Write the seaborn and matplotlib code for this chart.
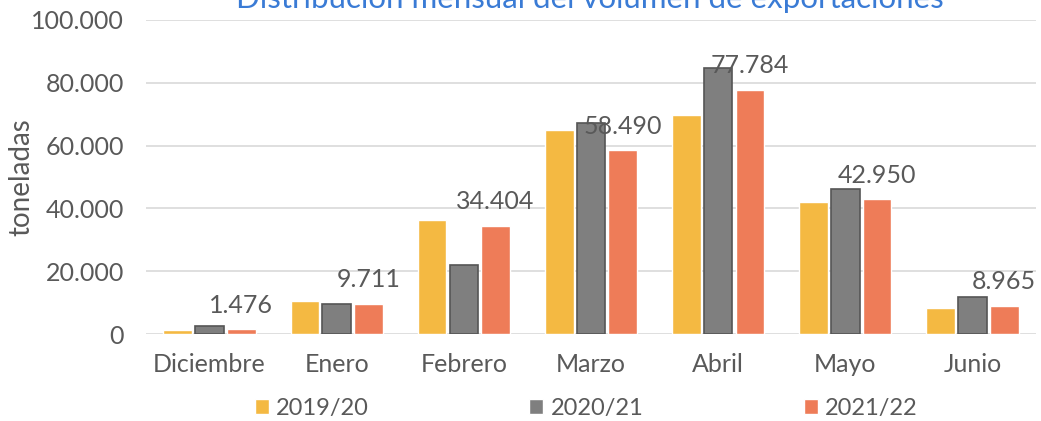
import pandas as pd
import seaborn as sns
import matplotlib.pyplot as plt
from matplotlib.ticker import FuncFormatter

# datos (toneladas)
meses = ["Diciembre", "Enero", "Febrero", "Marzo", "Abril", "Mayo", "Junio"]
campanias = ["2019/20", "2020/21", "2021/22"]
v_2019_20 = [1300, 10500, 36300, 65000, 69700, 42000, 8300]
v_2020_21 = [2600, 9500, 22000, 67200, 84700, 46200, 11900]
v_2021_22 = [1476, 9711, 34404, 58490, 77784, 42950, 8965]
colores = ["#F4B942", "#7F7F7F", "#EE7C58"]


def miles(x, pos=None):
    return "{:,.0f}".format(x).replace(",", ".")


df = pd.DataFrame({
    "mes": meses * 3,
    "campania": [c for c in campanias for _ in meses],
    "toneladas": v_2019_20 + v_2020_21 + v_2021_22,
})

sns.set_style("white")
plt.rcParams['font.family'] = ['Lato', 'DejaVu Sans']
gris = "#595959"

fig = plt.figure(figsize=(10.41, 4.21), dpi=100)
ax = fig.add_axes([146 / 1041, 87 / 421, 890 / 1041, 314 / 421])

sns.barplot(data=df, x="mes", y="toneladas", hue="campania", palette=colores,
            width=0.75, gap=0.1, ax=ax, saturation=1, legend=True)

# borde oscuro en las barras grises
for b in ax.containers[1]:
    b.set_edgecolor("#555555")
    b.set_linewidth(1.2)

ax.bar_label(ax.containers[2], labels=[miles(v) for v in v_2021_22],
             padding=9, fontsize=18, color=gris)

ax.set_ylim(0, 100000)
ax.set_yticks(range(0, 100001, 20000))
ax.yaxis.set_major_formatter(FuncFormatter(miles))
ax.grid(axis="y", color="#D9D9D9", linewidth=1.2)
ax.set_axisbelow(True)
sns.despine(ax=ax, left=True, bottom=True, top=True, right=True)
ax.tick_params(axis="y", length=0, labelsize=18, colors=gris, pad=16)
ax.tick_params(axis="x", length=0, labelsize=18, colors=gris, pad=14)
ax.set_xlabel("")
ax.set_ylabel("toneladas", fontsize=20, color=gris)
ax.yaxis.set_label_coords(-0.125, 0.5)

# leyenda abajo, fuera de los ejes
handles, labels = ax.get_legend_handles_labels()
ax.get_legend().remove()
leg = fig.legend(handles, labels, loc="center", bbox_to_anchor=(0.563, 1 - 408 / 421),
                 ncol=3, frameon=False, fontsize=17, handlelength=0.6,
                 handleheight=0.6, handletextpad=0.3, columnspacing=6.8)
for t in leg.get_texts():
    t.set_color(gris)

fig.text(0.567, 1 - 8 / 421, "Distribución mensual del volumen de exportaciones",
         ha="center", va="baseline", fontsize=22.5, color="#3A7BD5")

fig.savefig("out.png", dpi=100)
